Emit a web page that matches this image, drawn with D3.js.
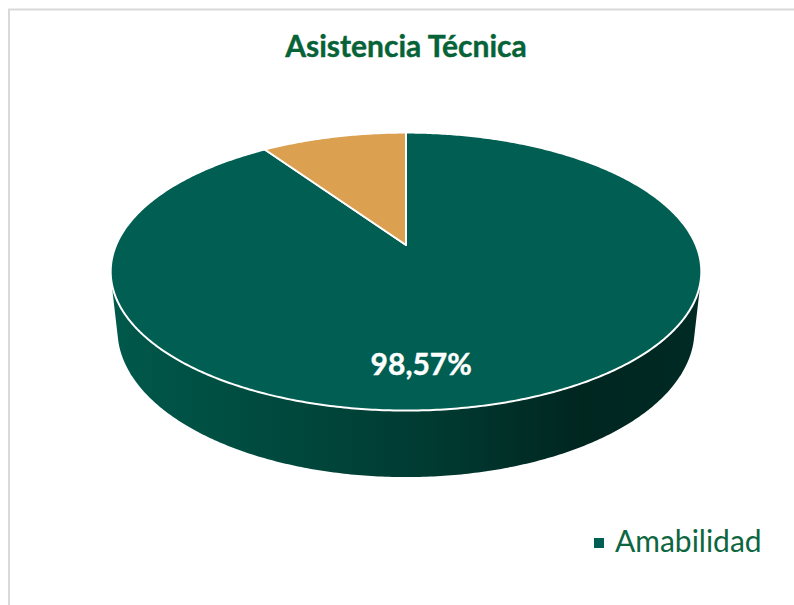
<!DOCTYPE html>
<html>
<head>
<meta charset="utf-8">
<script src="https://cdn.jsdelivr.net/npm/d3@7"></script>
<style>
  body { margin: 0; background: #fff; }
  svg { display: block; }
</style>
</head>
<body>
<svg id="chart" width="794" height="605"></svg>
<script>
// data
var categories = ["Amabilidad", "Otro"];
var values = [98.57, 10.4];
var labels = ["98,57%", ""];
var colors = ["#005f52", "#dba050"];
var title = "Asistencia Técnica";

var svg = d3.select("#chart");

// chart frame (only top and left edges show)
svg.append("path")
  .attr("d", "M9,605 V9.5 H794")
  .attr("fill", "none")
  .attr("stroke", "#d9d9d9")
  .attr("stroke-width", 2);

svg.append("text")
  .attr("x", 406)
  .attr("y", 57)
  .attr("text-anchor", "middle")
  .attr("font-family", "Lato")
  .attr("font-weight", "bold")
  .attr("font-size", 30)
  .attr("fill", "#066337")
  .attr("stroke", "#066337")
  .attr("stroke-width", 0.4)
  .text(title);

// simple perspective camera looking down on a unit disc
var cx = 406, cy = 245,
    f = 1345,
    tilt = Math.asin(0.462),
    sn = Math.sin(tilt), cs = Math.cos(tilt),
    dist = 4.64,
    depthH = 0.23;

function proj(phi, r, y) {
  var x = r * Math.sin(phi),
      z = -r * Math.cos(phi);
  var up = y * cs - z * sn,
      dep = dist - (y * sn + z * cs);
  return [cx + f * x / dep, cy - f * up / dep];
}

function arcPts(a0, a1, y) {
  var n = Math.max(2, Math.ceil(Math.abs(a1 - a0) / 0.01)), pts = [];
  for (var i = 0; i <= n; i++) pts.push(proj(a0 + (a1 - a0) * i / n, 1, y));
  return pts;
}

var pie = d3.pie().sort(null).value(function(d) { return d; });
var arcs = pie(values);

// visible part of the wall: normal faces the camera
var k = 1 / (dist * cs),
    vis0 = Math.acos(-k),
    vis1 = 2 * Math.PI - vis0;

var grad = svg.append("defs").append("linearGradient")
  .attr("id", "side")
  .attr("gradientUnits", "userSpaceOnUse")
  .attr("x1", 110).attr("x2", 700).attr("y1", 0).attr("y2", 0);
grad.selectAll("stop")
  .data([[0, "#00594b"], [0.3, "#00483d"], [0.55, "#003a31"], [0.8, "#002620"], [1, "#002a24"]])
  .enter().append("stop")
  .attr("offset", function(d) { return d[0]; })
  .attr("stop-color", function(d) { return d[1]; });

var line = d3.line();

// side walls
svg.append("g").selectAll("path")
  .data(arcs.filter(function(d) { return d.endAngle > vis0 && d.startAngle < vis1; }))
  .enter().append("path")
  .attr("d", function(d) {
    var a0 = Math.max(d.startAngle, vis0), a1 = Math.min(d.endAngle, vis1);
    var pts = arcPts(a0, a1, 0).concat(arcPts(a1, a0, -depthH));
    return line(pts) + "Z";
  })
  .attr("fill", function(d, i) { return d.index === 0 ? "url(#side)" : d3.color(colors[d.index]).darker(1.5); });

// top face
svg.append("g").selectAll("path")
  .data(arcs)
  .enter().append("path")
  .attr("d", function(d) {
    var pts = [proj(0, 0, 0)].concat(arcPts(d.startAngle, d.endAngle, 0));
    return line(pts) + "Z";
  })
  .attr("fill", function(d) { return colors[d.index]; })
  .attr("stroke", "#fff")
  .attr("stroke-width", 2)
  .attr("stroke-linejoin", "round");

// data label
var lp = proj(Math.PI - 0.06, 0.75, 0);
svg.append("text")
  .attr("x", lp[0])
  .attr("y", lp[1] + 2)
  .attr("dy", "0.36em")
  .attr("text-anchor", "middle")
  .attr("font-family", "Lato")
  .attr("font-weight", "bold")
  .attr("font-size", 30)
  .attr("fill", "#fff")
  .attr("stroke", "#fff")
  .attr("stroke-width", 0.4)
  .text(labels[0]);

// legend (first entry only shown)
var lg = svg.append("g").attr("transform", "translate(594,538)");
lg.append("rect")
  .attr("width", 10).attr("height", 10)
  .attr("fill", colors[0]);
lg.append("text")
  .attr("x", 21)
  .attr("y", 14)
  .attr("font-family", "Lato")
  .attr("font-size", 30)
  .attr("fill", "#0d6640")
  .text(categories[0]);
</script>
</body>
</html>
